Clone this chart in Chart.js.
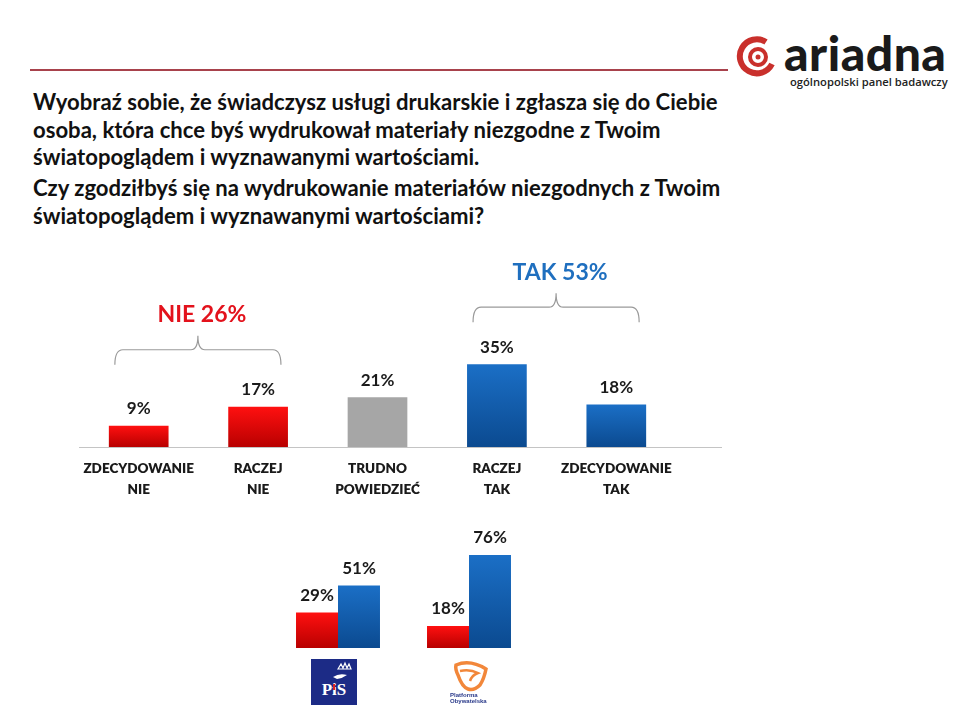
<!DOCTYPE html>
<html>
<head>
<meta charset="utf-8">
<script src="https://cdn.jsdelivr.net/npm/chart.js@4"></script>
<style>
  body { margin: 0; background: #fff; width: 960px; height: 720px; overflow: hidden; position: relative; font-family: Lato, "Open Sans", sans-serif; }
  .abs { position: absolute; }
  .title { left: 33px; font-weight: 700; font-size: 22.1px; line-height: 27.5px; color: #111; white-space: nowrap; }
  #rule { left: 30px; top: 69px; width: 698px; height: 2px; background: #a8424c; }
  #brand { left: 784px; top: 24px; font-weight: 900; font-size: 48px; color: #1a1a1a; letter-spacing: 0.5px; }
  #sub { left: 790px; top: 74px; font-size: 11.2px; font-weight: 600; color: #222; font-family: "Open Sans", sans-serif; }
</style>
</head>
<body>
<div id="rule" class="abs"></div>
<svg class="abs" style="left:736px;top:36px" width="46" height="42" viewBox="0 0 46 42">
  <path d="M30 6 A17 17 0 1 0 36 28" fill="none" stroke="#c9302c" stroke-width="6"/>
  <circle cx="22" cy="21" r="8" fill="none" stroke="#c9302c" stroke-width="4"/>
  <circle cx="22" cy="21" r="2.5" fill="#c9302c"/>
</svg>
<div id="brand" class="abs">ariadna</div>
<div id="sub" class="abs">ogólnopolski panel badawczy</div>
<div class="abs title" style="top:88px">Wyobraź sobie, że świadczysz usługi drukarskie i zgłasza się do Ciebie<br>osoba, która chce byś wydrukował materiały niezgodne z Twoim<br>światopoglądem i wyznawanymi wartościami.</div>
<div class="abs title" style="top:174px">Czy zgodziłbyś się na wydrukowanie materiałów niezgodnych z Twoim<br>światopoglądem i wyznawanymi wartościami?</div>

<canvas id="main" class="abs" style="left:0;top:230px" width="740" height="280"></canvas>
<canvas id="party" class="abs" style="left:230px;top:520px" width="330" height="140"></canvas>

<svg class="abs" style="left:311px;top:659px" width="46" height="46" viewBox="0 0 46 46">
  <rect width="46" height="46" fill="#1c2b86"/>
  <path d="M27 10 l3 -5 l2 4 l2 -5 l2 5 l2 -4 l2 5 z" fill="none" stroke="#fff" stroke-width="1.2"/>
  <path d="M22 18 q6 -4 14 -2 q-4 3 -10 4 z" fill="#fff"/>
  <text x="23" y="36" text-anchor="middle" font-family="Liberation Serif, serif" font-weight="700" font-size="17" fill="#fff">PiS</text>
  <rect x="22" y="25" width="2" height="6" fill="#d22"/>
</svg>
<svg class="abs" style="left:446px;top:657px" width="48" height="48" viewBox="0 0 48 48">
  <path d="M10 8 q14 -6 30 4 q-2 10 -6 16 q-6 6 -12 4 q-6 -2 -10 -14 q-3 -6 -2 -10 z" fill="none" stroke="#f2873a" stroke-width="3.5"/>
  <path d="M14 14 q10 -2 18 2 q-6 2 -8 8" fill="none" stroke="#f2873a" stroke-width="2.5"/>
  <text x="4" y="40" font-family="Liberation Sans, sans-serif" font-weight="700" font-size="6" fill="#2a3a8a">Platforma</text>
  <text x="4" y="46" font-family="Liberation Sans, sans-serif" font-weight="700" font-size="6" fill="#2a3a8a">Obywatelska</text>
</svg>

<script>
const categories = [['ZDECYDOWANIE', 'NIE'], ['RACZEJ', 'NIE'], ['TRUDNO', 'POWIEDZIEĆ'], ['RACZEJ', 'TAK'], ['ZDECYDOWANIE', 'TAK']];
const answerValues = [9, 17, 21, 35, 18];
const answerTones = ['red', 'red', 'gray', 'blue', 'blue'];

const groupNames = ['NIE', 'TAK'];
const groupTotals = [26, 53];
const groupFirst = [0, 3];
const groupLast = [1, 4];
const groupColors = ['#e3121c', '#1f6fbf'];

const parties = ['PiS', 'PO'];
const partyNo = [29, 18];
const partyYes = [51, 76];

const FONT = 'Lato, "Open Sans", sans-serif';
const tones = {
    red: ['#ff1010', '#b80000'],
    blue: ['#1b6fc6', '#0b4a90'],
    gray: ['#a6a6a6', '#a6a6a6']
};

function gradient(ctx, tone) {
    const chart = ctx.chart;
    if (!chart.chartArea || !ctx.parsed) return tones[tone][0];
    const y = chart.scales.y;
    const g = chart.ctx.createLinearGradient(0, y.getPixelForValue(ctx.parsed.y), 0, y.getPixelForValue(0));
    g.addColorStop(0, tones[tone][0]);
    g.addColorStop(1, tones[tone][1]);
    return g;
}

// value labels above every bar
const valueLabels = {
    id: 'valueLabels',
    afterDatasetsDraw(chart) {
        const ctx = chart.ctx;
        ctx.save();
        ctx.font = '700 17px ' + FONT;
        ctx.fillStyle = '#1a1a1a';
        ctx.textAlign = 'center';
        ctx.textBaseline = 'middle';
        chart.data.datasets.forEach((ds, di) => {
            chart.getDatasetMeta(di).data.forEach((bar, i) => {
                ctx.fillText(ds.data[i] + '%', bar.x, bar.y - 17);
            });
        });
        ctx.restore();
    }
};

// baseline and braces with group totals
const mainExtras = {
    id: 'mainExtras',
    afterDatasetsDraw(chart) {
        const ctx = chart.ctx;
        const area = chart.chartArea;
        const bars = chart.getDatasetMeta(0).data;
        ctx.save();
        ctx.strokeStyle = '#c4c4c4';
        ctx.lineWidth = 1.2;
        ctx.beginPath();
        ctx.moveTo(area.left, area.bottom + 0.5);
        ctx.lineTo(area.right + 46, area.bottom + 0.5);
        ctx.stroke();

        groupNames.forEach((name, g) => {
            const b1 = bars[groupFirst[g]], b2 = bars[groupLast[g]];
            const x1 = b1.x - b1.width / 2 + 6;
            const x2 = b2.x + b2.width / 2 - 7;
            let top = area.bottom;
            for (let i = groupFirst[g]; i <= groupLast[g]; i++) top = Math.min(top, bars[i].y);
            const y0 = top - 42, ym = y0 - 15, yt = y0 - 29;
            const cx = (x1 + x2) / 2;
            ctx.strokeStyle = '#9a9a9a';
            ctx.lineWidth = 1.2;
            ctx.beginPath();
            ctx.moveTo(x1, y0);
            ctx.quadraticCurveTo(x1, ym, x1 + 8, ym);
            ctx.lineTo(cx - 7, ym);
            ctx.quadraticCurveTo(cx, ym, cx, yt);
            ctx.quadraticCurveTo(cx, ym, cx + 7, ym);
            ctx.lineTo(x2 - 8, ym);
            ctx.quadraticCurveTo(x2, ym, x2, y0);
            ctx.stroke();
            ctx.font = '700 23px ' + FONT;
            ctx.fillStyle = groupColors[g];
            ctx.textAlign = 'center';
            ctx.textBaseline = 'middle';
            ctx.fillText(name + ' ' + groupTotals[g] + '%', cx + 4, yt - 21);
        });
        ctx.restore();
    }
};

new Chart(document.getElementById('main'), {
    type: 'bar',
    data: {
        labels: categories,
        datasets: [{
            data: answerValues,
            backgroundColor: ctx => gradient(ctx, answerTones[ctx.dataIndex]),
            barPercentage: 0.5,
            categoryPercentage: 1
        }]
    },
    options: {
        responsive: false,
        animation: false,
        events: [],
        layout: { padding: { left: 79, right: 64, top: 75, bottom: 0 } },
        scales: {
            x: {
                grid: { display: false },
                border: { display: false },
                ticks: { color: '#1a1a1a', font: { family: FONT, weight: '800', size: 13.5, lineHeight: 1.55 }, padding: 3 },
                afterFit(scale) { scale.height = 63; }
            },
            y: { display: false, min: 0, max: 60 }
        },
        plugins: { legend: { display: false }, tooltip: { enabled: false } }
    },
    plugins: [valueLabels, mainExtras]
});

new Chart(document.getElementById('party'), {
    type: 'bar',
    data: {
        labels: parties,
        datasets: [
            { data: partyNo, backgroundColor: ctx => gradient(ctx, 'red'), barPercentage: 1, categoryPercentage: 0.641 },
            { data: partyYes, backgroundColor: ctx => gradient(ctx, 'blue'), barPercentage: 1, categoryPercentage: 0.641 }
        ]
    },
    options: {
        responsive: false,
        animation: false,
        events: [],
        layout: { padding: { left: 42.5, right: 25.5, top: 30, bottom: 12 } },
        scales: {
            x: { display: false },
            y: { display: false, min: 0, max: 80 }
        },
        plugins: { legend: { display: false }, tooltip: { enabled: false } }
    },
    plugins: [valueLabels]
});
</script>
</body>
</html>
